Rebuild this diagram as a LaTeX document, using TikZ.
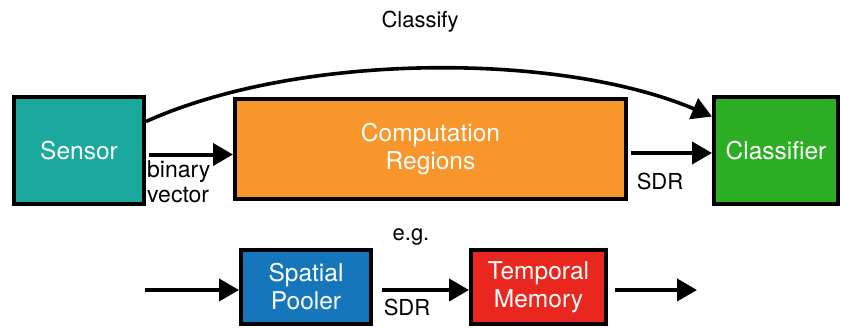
\documentclass[tikz,border=0pt]{standalone}
\usepackage{fontspec}
\setmainfont{TeX Gyre Heros}
\usetikzlibrary{arrows.meta,calc}
\definecolor{sensorc}{HTML}{1AA99C}
\definecolor{computec}{HTML}{F8962B}
\definecolor{classc}{HTML}{2BAE23}
\definecolor{spatialc}{HTML}{1676BC}
\definecolor{temporalc}{HTML}{E9271F}
\tikzset{
  block/.style={draw=black, line width=4pt, text=white, font=\fontsize{24.5}{28}\selectfont,
    align=center, inner sep=0pt, anchor=north west},
  flow/.style={line width=4pt, -{Triangle[length=20pt,width=22pt]}},
  lbl/.style={font=\fontsize{22}{25}\selectfont, text=black, align=left}
}
\begin{document}
\begin{tikzpicture}[x=1pt,y=-1pt]
\useasboundingbox (0,0) rectangle (841,327);
% upper row
\node[block, fill=sensorc, minimum width=130pt, minimum height=107pt] (sensor) at (12,95) {Sensor};
\node[block, fill=computec, minimum width=391pt, minimum height=100pt] (compute) at (233,97) {Computation\\Regions};
\node[block, fill=classc, minimum width=124pt, minimum height=107pt] (classifier) at (712,95) {Classifier};
\draw[flow] ([yshift=-4pt]sensor.east) ++(3pt,0) coordinate (s1) -- (s1 -| compute.west);
\draw[flow] ([yshift=-4pt]compute.east) ++(3pt,0) coordinate (c1) -- (c1 -| classifier.west);
\draw[flow, line width=3.6pt] ([yshift=29pt]sensor.east) .. controls (300,52) and (560,52) .. ([yshift=34pt]classifier.west);
\node[lbl] (classify) at (420,22) {Classify};
\node[lbl, anchor=north west, inner sep=0pt, font=\fontsize{23}{26}\selectfont] (bv) at (147,161) {binary\\[-1pt]vector};
\node[lbl, inner sep=0pt] (sdr1) at (660,181) {SDR};
% lower row
\node[lbl] (eg) at (411,237) {e.g.};
\node[block, fill=spatialc, minimum width=130pt, minimum height=74pt] (spatial) at (239,248) {Spatial\\Pooler};
\node[block, fill=temporalc, minimum width=135pt, minimum height=74pt] (temporal) at (469,248) {Temporal\\Memory};
\coordinate (in) at (145,290);
\coordinate (out) at (697,290);
\draw[flow] (in) -- (in -| spatial.west);
\draw[flow] ([xshift=9pt]spatial.east |- in) -- (in -| temporal.west);
\draw[flow] ([xshift=7pt]temporal.east |- out) -- (out);
\node[lbl, inner sep=0pt] (sdr2) at (407,307) {SDR};
\end{tikzpicture}
\end{document}
